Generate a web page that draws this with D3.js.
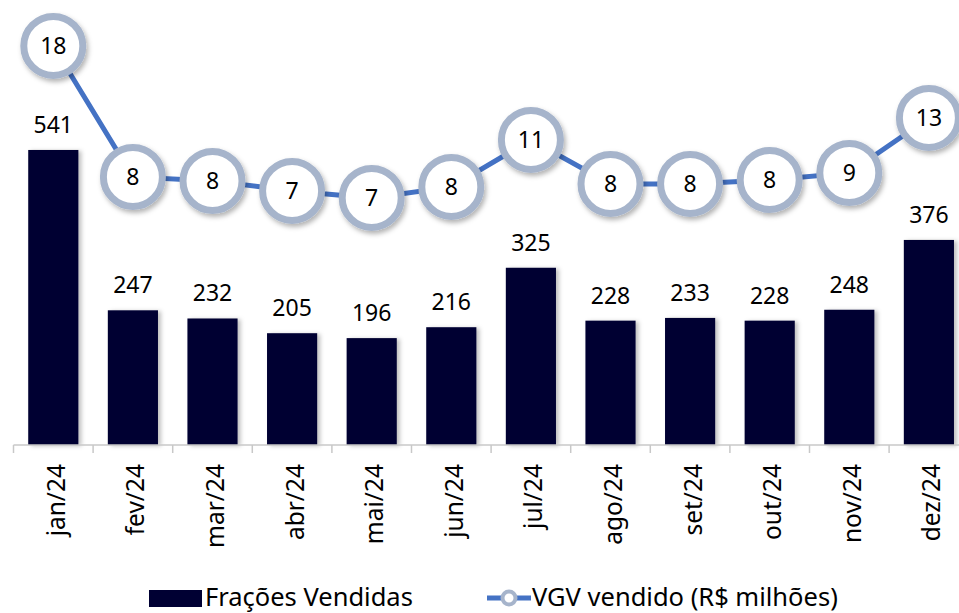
<!DOCTYPE html>
<html>
<head>
<meta charset="utf-8">
<script src="https://cdn.jsdelivr.net/npm/d3@7"></script>
<style>
  body { margin: 0; background: #fff; }
  svg { display: block; font-family: "Noto Sans", "Open Sans", sans-serif; }
</style>
</head>
<body>
<div id="chart"></div>
<script>
const meses = ['jan/24', 'fev/24', 'mar/24', 'abr/24', 'mai/24', 'jun/24',
  'jul/24', 'ago/24', 'set/24', 'out/24', 'nov/24', 'dez/24'];
const fracoes = [541, 247, 232, 205, 196, 216, 325, 228, 233, 228, 248, 376];
const vgv = [18.0, 8.45, 8.16, 7.43, 6.92, 7.72, 11.15, 7.94, 7.94, 8.23, 8.74, 12.75];

const width = 959;
const height = 613;
const base = 445;

const svg = d3.select('#chart').append('svg')
  .attr('width', width)
  .attr('height', height);

const defs = svg.append('defs');
defs.append('filter').attr('id', 'sombra')
  .attr('x', '-30%').attr('y', '-30%').attr('width', '160%').attr('height', '160%')
  .append('feDropShadow')
  .attr('dx', 2).attr('dy', 3).attr('stdDeviation', 2.5)
  .attr('flood-color', '#000').attr('flood-opacity', 0.3);
defs.append('filter').attr('id', 'sombraBarra')
  .attr('x', '-20%').attr('y', '-10%').attr('width', '150%').attr('height', '120%')
  .append('feDropShadow')
  .attr('dx', 3).attr('dy', 1).attr('stdDeviation', 2)
  .attr('flood-color', '#000').attr('flood-opacity', 0.25);

const x = d3.scaleBand()
  .domain(meses)
  .range([13.5, 13.5 + 12 * 79.6])
  .paddingInner(0.37)
  .paddingOuter(0.185);

const y = d3.scaleLinear().domain([0, 816]).range([base, 0]);
const y2 = d3.scaleLinear().domain([-11.1, 21.35]).range([base, 0]);

// barras
svg.append('g').selectAll('rect')
  .data(fracoes)
  .join('rect')
  .attr('x', (d, i) => x(meses[i]))
  .attr('y', (d) => y(d))
  .attr('width', x.bandwidth())
  .attr('height', (d) => base - y(d))
  .attr('fill', '#000033')
  .attr('filter', 'url(#sombraBarra)');

svg.append('g').selectAll('text')
  .data(fracoes)
  .join('text')
  .attr('x', (d, i) => x(meses[i]) + x.bandwidth() / 2)
  .attr('y', (d) => y(d) - 17)
  .attr('text-anchor', 'middle')
  .attr('font-size', 23)
  .attr('fill', '#000')
  .text((d) => d);

// eixo x
const eixo = svg.append('g');
eixo.append('line')
  .attr('x1', x.range()[0]).attr('x2', width)
  .attr('y1', base).attr('y2', base)
  .attr('stroke', '#c8c8c8').attr('stroke-width', 1.5);
eixo.selectAll('line.tick')
  .data(meses)
  .join('line')
  .attr('class', 'tick')
  .attr('x1', (d) => x(d) - (x.step() - x.bandwidth()) / 2)
  .attr('x2', (d) => x(d) - (x.step() - x.bandwidth()) / 2)
  .attr('y1', base).attr('y2', base + 8)
  .attr('stroke', '#c8c8c8').attr('stroke-width', 1.5);
eixo.selectAll('text')
  .data(meses)
  .join('text')
  .attr('transform', (d) => `translate(${x(d) + x.bandwidth() / 2 + 3},${base + 19}) rotate(-90)`)
  .attr('text-anchor', 'end')
  .attr('dy', '0.35em')
  .attr('font-size', 24.5)
  .attr('fill', '#000')
  .text((d) => d);

// linha VGV
const linha = d3.line()
  .x((d, i) => x(meses[i]) + x.bandwidth() / 2)
  .y((d) => y2(d));

svg.append('path')
  .datum(vgv)
  .attr('d', linha)
  .attr('fill', 'none')
  .attr('stroke', '#4472c4')
  .attr('stroke-width', 5);

const pontos = svg.append('g').selectAll('g')
  .data(vgv)
  .join('g')
  .attr('transform', (d, i) => `translate(${x(meses[i]) + x.bandwidth() / 2},${y2(d)})`);

pontos.append('circle')
  .attr('r', 29.5)
  .attr('fill', '#fff')
  .attr('stroke', '#a6b4cb')
  .attr('stroke-width', 7)
  .attr('filter', 'url(#sombra)');

pontos.append('text')
  .attr('text-anchor', 'middle')
  .attr('dy', '0.36em')
  .attr('font-size', 23)
  .attr('fill', '#000')
  .text((d) => Math.round(d));

// legenda
const leg = svg.append('g');
leg.append('rect')
  .attr('x', 149).attr('y', 590)
  .attr('width', 53).attr('height', 17)
  .attr('fill', '#000033');
leg.append('text')
  .attr('x', 205).attr('y', 606)
  .attr('font-size', 25.5)
  .text('Frações Vendidas');
leg.append('line')
  .attr('x1', 487).attr('x2', 531)
  .attr('y1', 598).attr('y2', 598)
  .attr('stroke', '#4472c4').attr('stroke-width', 5);
leg.append('circle')
  .attr('cx', 509).attr('cy', 598).attr('r', 6.5)
  .attr('fill', '#fff')
  .attr('stroke', '#a6b4cb').attr('stroke-width', 4);
leg.append('text')
  .attr('x', 532).attr('y', 606)
  .attr('font-size', 25.5)
  .text('VGV vendido (R$ milhões)');
</script>
</body>
</html>
